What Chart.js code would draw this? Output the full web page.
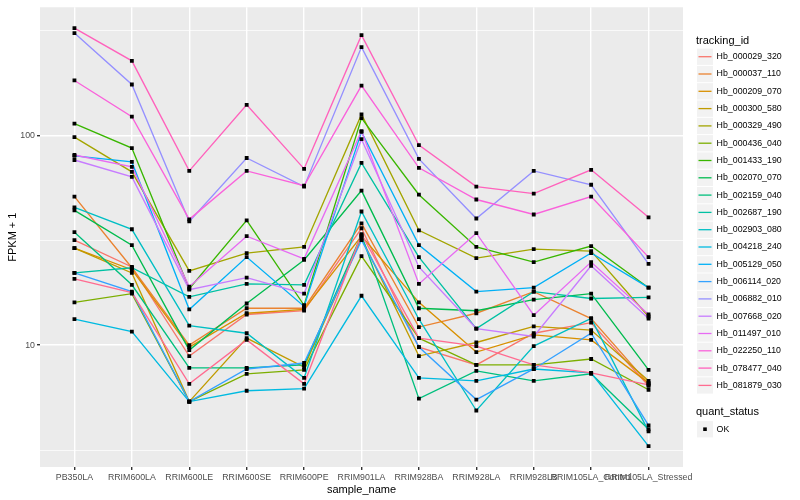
<!DOCTYPE html>
<html>
<head>
<meta charset="utf-8">
<script src="https://cdn.jsdelivr.net/npm/chart.js@4.4.1/dist/chart.umd.min.js"></script>
<style>
  html, body { margin: 0; padding: 0; background: #ffffff; }
</style>
</head>
<body>
<canvas id="chart" width="800" height="500"></canvas>
<script>
// setup
var categories = ['PB350LA', 'RRIM600LA', 'RRIM600LE', 'RRIM600SE', 'RRIM600PE', 'RRIM901LA',
  'RRIM928BA', 'RRIM928LA', 'RRIM928LB', 'RRIM105LA_Control', 'RRIM105LA_Stressed'];

var trackingIds = ['Hb_000029_320', 'Hb_000037_110', 'Hb_000209_070', 'Hb_000300_580', 'Hb_000329_490',
  'Hb_000436_040', 'Hb_001433_190', 'Hb_002070_070', 'Hb_002159_040', 'Hb_002687_190',
  'Hb_002903_080', 'Hb_004218_240', 'Hb_005129_050', 'Hb_006114_020', 'Hb_006882_010',
  'Hb_007668_020', 'Hb_011497_010', 'Hb_022250_110', 'Hb_078477_040', 'Hb_081879_030'];

// FPKM + 1, one value per sample
var hb_000029_320 = [31.7, 23.6, 8.87, 14.0, 14.6, 36.1, 9.79, 8.05, 11.4, 12.8, 6.40];
var hb_000037_110 = [51.1, 23.4, 10.0, 15.0, 15.0, 38.1, 12.2, 14.2, 18.0, 13.4, 6.54];
var hb_000209_070 = [29.0, 22.9, 9.79, 14.2, 14.8, 33.1, 16.0, 9.27, 11.2, 10.6, 6.61];
var hb_000300_580 = [29.0, 22.1, 5.38, 10.8, 7.87, 32.4, 8.87, 10.3, 12.3, 11.8, 6.76];
var hb_000329_490 = [98.2, 67.1, 22.6, 27.5, 29.4, 126, 35.3, 26.0, 28.7, 28.1, 13.7];
var hb_000436_040 = [16.0, 17.6, 5.38, 7.30, 7.62, 26.6, 10.8, 8.05, 8.05, 8.59, 6.13];
var hb_001433_190 = [114, 87.1, 18.6, 39.4, 15.5, 121, 52.2, 29.4, 24.9, 29.7, 18.8];
var hb_002070_070 = [43.9, 30.0, 9.47, 15.8, 25.5, 54.6, 15.0, 14.6, 16.5, 17.6, 7.62];
var hb_002159_040 = [34.6, 19.4, 7.79, 7.79, 8.05, 33.5, 5.56, 7.54, 6.76, 7.30, 3.97];
var hb_002687_190 = [22.1, 23.4, 17.0, 19.6, 19.4, 74.0, 26.3, 12.0, 18.0, 16.7, 16.9];
var hb_002903_080 = [45.4, 35.7, 12.4, 11.4, 6.98, 43.4, 13.3, 4.88, 9.89, 13.4, 3.88];
var hb_004218_240 = [13.3, 11.6, 5.38, 6.06, 6.20, 17.2, 6.98, 6.76, 7.70, 7.38, 3.30];
var hb_005129_050 = [79.9, 74.8, 14.8, 26.3, 15.3, 104, 30.0, 18.0, 18.8, 27.5, 18.8];
var hb_006114_020 = [22.1, 18.0, 5.38, 7.70, 8.22, 31.7, 9.79, 5.50, 7.70, 11.4, 4.14];
var hb_006882_010 = [308, 175, 38.9, 78.1, 57.0, 264, 77.3, 40.2, 67.8, 58.2, 24.4];
var hb_007668_020 = [76.4, 63.5, 18.4, 21.0, 17.6, 96.0, 23.6, 12.0, 11.0, 23.9, 13.4];
var hb_011497_010 = [80.7, 70.8, 19.0, 33.1, 25.8, 105, 19.6, 34.2, 13.9, 24.9, 14.0];
var hb_022250_110 = [183, 123, 39.8, 67.8, 57.6, 173, 70.1, 49.5, 42.0, 51.1, 26.3];
var hb_078477_040 = [325, 227, 67.8, 140, 69.3, 301, 90.0, 57.0, 52.8, 68.6, 40.7];
var hb_081879_030 = [20.7, 17.8, 6.54, 10.6, 6.54, 33.8, 10.8, 9.89, 8.05, 7.38, 6.47];

var seriesValues = [hb_000029_320, hb_000037_110, hb_000209_070, hb_000300_580, hb_000329_490,
  hb_000436_040, hb_001433_190, hb_002070_070, hb_002159_040, hb_002687_190,
  hb_002903_080, hb_004218_240, hb_005129_050, hb_006114_020, hb_006882_010,
  hb_007668_020, hb_011497_010, hb_022250_110, hb_078477_040, hb_081879_030];

var yMajorTicks = [10, 100];
var yMinorTicks = [3.162, 31.62, 316.2];

// ggplot hue palette, 20 levels
var colors = ['#F8766D', '#EA8331', '#D89000', '#C09B00', '#A3A500', '#7CAE00', '#39B600', '#00BB4E',
  '#00BF7D', '#00C1A3', '#00BFC4', '#00BAE0', '#00B0F6', '#35A2FF', '#9590FF', '#C77CFF',
  '#E76BF3', '#FA62DB', '#FF62BC', '#FF6C91'];

var FONT = '"Liberation Sans", Arial, sans-serif';

function isMajor(v) {
  return yMajorTicks.indexOf(v) >= 0;
}

// lines first, points on top (lower order is drawn last)
var datasets = [];
for (var s = 0; s < seriesValues.length; s++) {
  var pts = seriesValues[s].map(function(v, i) { return {x: i, y: v}; });
  datasets.push({
    label: trackingIds[s],
    data: pts,
    borderColor: colors[s],
    borderWidth: 1.35,
    pointRadius: 0,
    tension: 0,
    order: 100 - s
  });
  datasets.push({
    label: trackingIds[s] + ' OK',
    data: pts,
    showLine: false,
    pointStyle: 'rect',
    pointRadius: 2.7,
    pointBackgroundColor: '#000000',
    pointBorderWidth: 0,
    order: 0
  });
}

// grey panel like theme_grey
var panelBg = {
  id: 'panelBg',
  beforeDraw: function(chart) {
    var ctx = chart.ctx, a = chart.chartArea;
    ctx.save();
    ctx.fillStyle = '#FFFFFF';
    ctx.fillRect(0, 0, chart.width, chart.height);
    ctx.fillStyle = '#EBEBEB';
    ctx.fillRect(a.left, a.top, a.right - a.left, a.bottom - a.top);
    ctx.restore();
  }
};

// ggplot style legend on the right
var ggLegend = {
  id: 'ggLegend',
  afterDraw: function(chart) {
    var ctx = chart.ctx;
    var x0 = 696, keyX = 697, keyW = 16, step = 17.3, y0 = 56.7;
    ctx.save();
    ctx.textAlign = 'left';
    ctx.textBaseline = 'middle';
    ctx.fillStyle = '#000000';
    ctx.font = '11px ' + FONT;
    ctx.fillText('tracking_id', x0, 40.7);
    for (var i = 0; i < trackingIds.length; i++) {
      var yc = y0 + i * step;
      ctx.fillStyle = '#F2F2F2';
      ctx.fillRect(keyX, yc - 8.1, keyW, 16.3);
      ctx.strokeStyle = colors[i];
      ctx.lineWidth = 1.3;
      ctx.beginPath();
      ctx.moveTo(keyX + 1.5, yc);
      ctx.lineTo(keyX + keyW - 1.5, yc);
      ctx.stroke();
      ctx.fillStyle = '#000000';
      ctx.font = '8.8px ' + FONT;
      ctx.fillText(trackingIds[i], 716.6, yc);
    }
    ctx.font = '11px ' + FONT;
    ctx.fillText('quant_status', x0, 412.3);
    ctx.fillStyle = '#F2F2F2';
    ctx.fillRect(keyX, 429.2 - 8.1, keyW, 16.3);
    ctx.fillStyle = '#000000';
    ctx.fillRect(keyX + keyW / 2 - 1.8, 429.2 - 1.8, 3.6, 3.6);
    ctx.font = '8.8px ' + FONT;
    ctx.fillText('OK', 716.6, 429.2);
    ctx.restore();
  }
};

// config
var config = {
  type: 'line',
  data: { datasets: datasets },
  options: {
    responsive: false,
    animation: false,
    devicePixelRatio: 1,
    layout: { padding: { left: 0, right: 117, top: 5, bottom: 0 } },
    plugins: {
      legend: { display: false },
      tooltip: { enabled: false }
    },
    scales: {
      x: {
        type: 'linear',
        min: -0.6,
        max: 10.6,
        afterBuildTicks: function(scale) {
          scale.ticks = categories.map(function(c, i) { return {value: i}; });
        },
        afterFit: function(scale) { scale.height = 33; },
        ticks: {
          autoSkip: false,
          maxRotation: 0,
          minRotation: 0,
          padding: 2,
          color: '#4D4D4D',
          font: { family: FONT, size: 8.8 },
          callback: function(v) { return categories[v]; }
        },
        grid: { color: '#FFFFFF', lineWidth: 1.4, tickLength: 3, tickColor: '#333333' },
        border: { display: false },
        title: {
          display: true,
          text: 'sample_name',
          color: '#000000',
          font: { family: FONT, size: 11 },
          padding: { top: 0, bottom: 3 }
        }
      },
      y: {
        type: 'logarithmic',
        min: 2.624,
        max: 408.7,
        afterBuildTicks: function(scale) {
          scale.ticks = yMinorTicks.concat(yMajorTicks).sort(function(a, b) { return a - b; })
            .map(function(v) { return {value: v}; });
        },
        afterFit: function(scale) { scale.width = 40; },
        ticks: {
          padding: 2,
          color: '#4D4D4D',
          font: { family: FONT, size: 8.8 },
          callback: function(v) { return isMajor(v) ? String(v) : ''; }
        },
        grid: {
          color: '#FFFFFF',
          lineWidth: function(c) { return c.tick && isMajor(c.tick.value) ? 1.4 : 0.7; },
          tickLength: 3,
          tickColor: function(c) { return c.tick && isMajor(c.tick.value) ? '#333333' : 'rgba(0,0,0,0)'; }
        },
        border: { display: false },
        title: {
          display: true,
          text: 'FPKM + 1',
          color: '#000000',
          font: { family: FONT, size: 11 },
          padding: { top: 6, bottom: 0 }
        }
      }
    }
  },
  plugins: [panelBg, ggLegend]
};

// render init block
var myChart = new Chart(document.getElementById('chart'), config);
</script>
</body>
</html>
